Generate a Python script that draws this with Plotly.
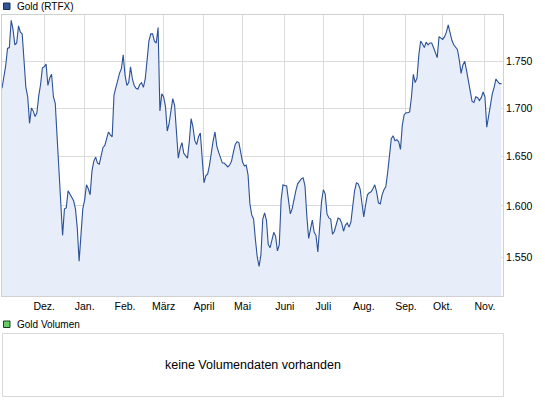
import numpy as np
import pandas as pd
from plotly import graph_objects as go

W, H = 545, 401

# gold price (RTFX), one value per trading day starting 2011-10-31
gold = [
    1721, 1731, 1745, 1764, 1765, 1795, 1785, 1768, 1770, 1789, 1782, 1780,
    1750, 1722, 1712, 1684, 1700, 1697, 1691, 1695, 1713, 1725, 1743, 1744,
    1747, 1724, 1732, 1736, 1712, 1705, 1670, 1640, 1605, 1571, 1597, 1598,
    1615, 1612, 1608, 1605, 1597, 1578, 1546, 1575, 1597, 1606, 1621, 1617,
    1611, 1635, 1645, 1649, 1643, 1642, 1652, 1659, 1661, 1667, 1675, 1672,
    1670, 1714, 1722, 1730, 1737, 1742, 1757, 1735, 1724, 1727, 1744, 1731,
    1724, 1721, 1720, 1725, 1727, 1722, 1731, 1751, 1772, 1780, 1780, 1772,
    1770, 1787, 1697, 1715, 1712, 1702, 1676, 1684, 1700, 1710, 1703,
    1672, 1648, 1658, 1664, 1653, 1650, 1648, 1665, 1689, 1680, 1666, 1662,
    1670, 1674, 1648, 1623, 1630, 1632, 1641, 1655, 1666, 1675, 1660, 1654,
    1648, 1643, 1643, 1641, 1639, 1641, 1645, 1654, 1662, 1665, 1664, 1654,
    1644, 1640, 1641, 1631, 1602, 1591, 1587, 1567, 1550, 1541,
    1552, 1587, 1593, 1586, 1562, 1559, 1568, 1574, 1570, 1556, 1562, 1606,
    1621, 1620, 1620, 1603, 1592, 1597, 1607, 1615, 1622, 1625, 1627, 1628,
    1620, 1590, 1568, 1577, 1586, 1574, 1571, 1555, 1585, 1604, 1616, 1612,
    1592, 1588, 1587, 1572, 1575, 1581, 1588, 1587, 1583,
    1575, 1581, 1583, 1579, 1584, 1601, 1615, 1623, 1622, 1617, 1600, 1589,
    1601, 1611, 1613, 1614, 1617, 1621, 1614, 1603, 1602, 1611, 1616, 1619,
    1633, 1652, 1668, 1671, 1666, 1667, 1665, 1657, 1682, 1693, 1695, 1695,
    1696, 1712, 1736, 1727, 1732, 1757, 1772, 1769, 1765, 1771, 1768, 1770,
    1770, 1765, 1760, 1754, 1777, 1775, 1774, 1777, 1782, 1790, 1781, 1773,
    1768, 1765, 1763, 1752, 1737, 1746, 1750, 1740, 1727, 1718, 1707, 1706,
    1712, 1711, 1708, 1711, 1717, 1712, 1680, 1692, 1705, 1715, 1722, 1731,
    1728, 1726, 1726,
]
dates = pd.bdate_range("2011-10-31", periods=len(gold))

month_ticks = [
    "2011-12-01", "2012-01-02", "2012-02-01", "2012-03-01", "2012-04-02",
    "2012-05-01", "2012-06-01", "2012-07-02", "2012-08-01", "2012-09-03",
    "2012-10-01", "2012-11-01",
]
month_labels = [
    "Dez.", "Jan.", "Feb.", "März", "April", "Mai",
    "Juni", "Juli", "Aug.", "Sep.", "Okt.", "Nov.",
]
y_ticks = [1550, 1600, 1650, 1700, 1750]


def px(x):
    return x / W


def py(y):
    return 1 - y / H


FONT = "Liberation Sans, Arial, sans-serif"
GRID = "#dcdcdc"

fig = go.Figure(
    data=[
        go.Scatter(
            x=dates,
            y=gold,
            mode="lines",
            line=dict(color="#2c5196", width=1.1),
            fill="tozeroy",
            fillcolor="#e7edf9",
            hoverinfo="skip",
        )
    ],
    layout=dict(
        width=W,
        height=H,
        margin=dict(l=0, r=0, t=0, b=0),
        paper_bgcolor="white",
        plot_bgcolor="white",
        showlegend=False,
        separators=",.",
        font=dict(family=FONT, size=10.5, color="#000"),
        xaxis=dict(
            type="date",
            domain=[px(2), px(503)],
            range=[dates[0], dates[-1] + pd.Timedelta(hours=20)],
            rangebreaks=[dict(bounds=["sat", "mon"])],
            tickvals=month_ticks,
            ticktext=month_labels,
            ticks="",
            showgrid=True,
            gridcolor=GRID,
            showline=True,
            linecolor="#d0d0d0",
            mirror=True,
            zeroline=False,
        ),
        yaxis=dict(
            type="log",
            domain=[py(296), py(15)],
            range=[np.log10(1513), np.log10(1801)],
            side="right",
            tickvals=y_ticks,
            tickformat=",d",
            ticks="",
            showgrid=True,
            gridcolor=GRID,
            showline=True,
            linecolor="#d0d0d0",
            mirror=True,
            zeroline=False,
        ),
        shapes=[
            # legend squares
            dict(type="rect", xref="paper", yref="paper",
                 x0=px(3.5), x1=px(10), y0=py(9.5), y1=py(3),
                 fillcolor="#2f5597", line=dict(color="#1a2f55", width=1)),
            dict(type="rect", xref="paper", yref="paper",
                 x0=px(3.5), x1=px(10), y0=py(327.5), y1=py(321),
                 fillcolor="#66cc66", line=dict(color="#1f3d1f", width=1)),
            # empty volume panel
            dict(type="rect", xref="paper", yref="paper",
                 x0=px(2.5), x1=px(503.5), y0=py(396.5), y1=py(333.5),
                 line=dict(color="#d9d9d9", width=1)),
        ],
        annotations=[
            dict(text="Gold (RTFX)", xref="paper", yref="paper",
                 x=px(15), y=py(6.5), xanchor="left", yanchor="middle",
                 showarrow=False, font=dict(size=10)),
            dict(text="Gold Volumen", xref="paper", yref="paper",
                 x=px(15), y=py(324.5), xanchor="left", yanchor="middle",
                 showarrow=False, font=dict(size=10)),
            dict(text="keine Volumendaten vorhanden", xref="paper", yref="paper",
                 x=px(253), y=py(365), xanchor="center", yanchor="middle",
                 showarrow=False, font=dict(size=12.5)),
        ],
    ),
)

# the page body has a default 8px margin; drop it so the chart fills the window
fig.write_html(
    "out.html",
    config=dict(displayModeBar=False),
    post_script="document.body.style.margin='0';",
)
